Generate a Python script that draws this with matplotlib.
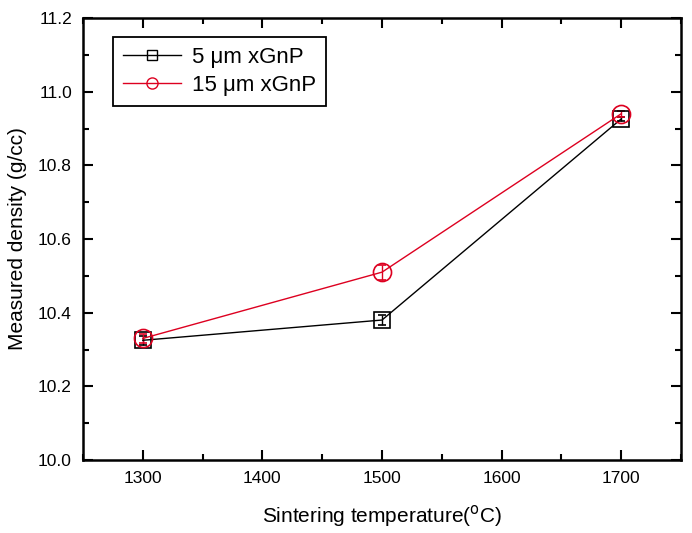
import matplotlib
matplotlib.use("Agg")
import matplotlib.pyplot as plt
from matplotlib.ticker import MultipleLocator

plt.rcParams['font.family'] = ['Liberation Sans', 'DejaVu Sans']

temps = [1300, 1500, 1700]
dens_5 = [10.325, 10.38, 10.926]
err_5 = [0.012, 0.014, 0.006]
dens_15 = [10.33, 10.51, 10.94]
err_15 = [0.012, 0.02, 0.008]
labels = ["5 \u03bcm xGnP", "15 \u03bcm xGnP"]
red = '#dd0020'

fig = plt.figure(figsize=(6.92, 5.33), dpi=100)
ax = fig.add_axes([83/692, 1-460/533, 598/692, 442/533])

ax.errorbar(temps, dens_5, yerr=err_5, color='black', lw=1, marker='s',
            ms=11, mfc='none', mec='black', mew=1.2, capsize=3, elinewidth=1,
            zorder=3)
ax.errorbar(temps, dens_15, yerr=err_15, color=red, lw=1, marker='o',
            ms=13, mfc='none', mec=red, mew=1.2, capsize=3, elinewidth=1,
            zorder=3)

ax.set_xlim(1250, 1750)
ax.set_ylim(10.0, 11.2)
ax.set_xticks([1300, 1400, 1500, 1600, 1700])
ax.xaxis.set_minor_locator(MultipleLocator(50))
ax.yaxis.set_major_locator(MultipleLocator(0.2))
ax.yaxis.set_minor_locator(MultipleLocator(0.1))
ax.yaxis.set_major_formatter(plt.FuncFormatter(lambda v, p: f"{v:.1f}"))
ax.tick_params(which='both', direction='in', top=True, right=True, width=1.5,
               pad=8)
ax.tick_params(which='major', length=7)
ax.tick_params(which='minor', length=4.5)
for lab in ax.get_xticklabels() + ax.get_yticklabels():
    lab.set_family(['Liberation Sans Narrow', 'Liberation Sans'])
    lab.set_fontsize(12.5)
for s in ax.spines.values():
    s.set_linewidth(1.8)

ax.set_xlabel("Sintering temperature($^{\\rm o}$C)", fontsize=15, labelpad=12)
ax.set_ylabel("Measured density (g/cc)", fontsize=15, labelpad=8)

h1 = plt.Line2D([], [], color='black', lw=1, marker='s', ms=7, mfc='none', mec='black')
h2 = plt.Line2D([], [], color=red, lw=1, marker='o', ms=8, mfc='none', mec=red)
leg = ax.legend([h1, h2], labels, loc='upper left', bbox_to_anchor=(0.05, 0.957),
                fontsize=16, fancybox=False, edgecolor='black', framealpha=1,
                handlelength=2.6, handletextpad=0.5, borderpad=0.45,
                labelspacing=0.3, borderaxespad=0)
leg.get_frame().set_linewidth(1.3)

fig.savefig("out.png", dpi=100)
